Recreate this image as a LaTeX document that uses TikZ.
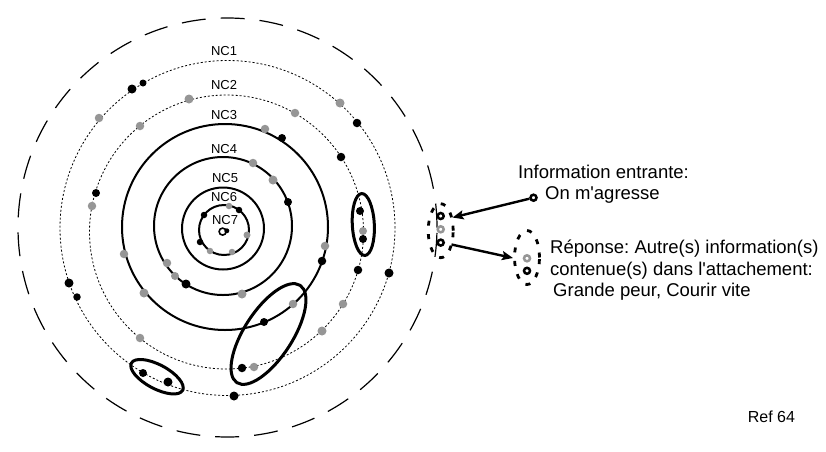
\documentclass[tikz,border=0pt]{standalone}
\usepackage{fontspec}
\setmainfont{Liberation Sans}
\usetikzlibrary{arrows.meta}
\definecolor{dotgray}{RGB}{150,150,150}
\frenchspacing
\begin{document}
\begin{tikzpicture}[x=1pt,y=-1pt,
  bdot/.style={circle,fill=black,inner sep=0pt,minimum size=7pt},
  gdot/.style={circle,fill=dotgray,inner sep=0pt,minimum size=7.5pt},
  outerc/.style={line width=1.2pt,dash pattern=on 24pt off 15pt},
  dotc/.style={line width=0.8pt,dash pattern=on 2pt off 2pt},
  solidc/.style={line width=2pt},
  grp/.style={line width=3pt},
  nclab/.style={anchor=base,inner sep=0pt,font=\fontsize{13pt}{15pt}\selectfont},
  txt/.style={anchor=base west,inner sep=0pt,font=\fontsize{18.5pt}{21pt}\selectfont},
  ringb/.style={circle,draw=black,line width=2.5pt,inner sep=0pt,minimum size=6pt},
  ringg/.style={circle,draw=dotgray,line width=2.5pt,inner sep=0pt,minimum size=6pt},
  dashgrp/.style={line width=2.8pt,dash pattern=on 5pt off 8.5pt},
  arr/.style={line width=2.4pt,-{Stealth[length=11pt,width=9pt,inset=2pt]}}
]
\fill[white] (0,0) rectangle (826,451);
\useasboundingbox (0,0) rectangle (826,451);

% circles
\draw[outerc] (227.5,227.5) circle[radius=209.5pt];
\draw[dotc] (227.5,228) circle[radius=167.5pt];
\draw[dotc] (226.5,232) circle[radius=137pt];
\draw[solidc] (225,227) circle[radius=103pt];
\draw[solidc] (223,226) circle[radius=69pt];
\draw[solidc] (223,228.5) circle[radius=41pt];
\draw[solidc] (224,230) circle[radius=25pt];

% labels
\node[nclab] (nc1) at (224,55.7) {NC1};
\node[nclab] (nc2) at (224,89.7) {NC2};
\node[nclab] (nc3) at (224,119.7) {NC3};
\node[nclab] (nc4) at (224,153.7) {NC4};
\node[nclab] (nc5) at (225,182.7) {NC5};
\node[nclab] (nc6) at (224,201.7) {NC6};
\node[nclab] (nc7) at (225,224.7) {NC7};

% NC7 centre
\node[bdot,minimum size=5pt] (c7dot) at (226.8,230.8) {};
\node[circle,draw=black,line width=1.6pt,inner sep=0pt,minimum size=7pt] (c7ring) at (222.6,231.6) {};

% black dots
\foreach \x/\y/\s [count=\i] in {
  143/83/7, 132/89/9, 357/123/8.5, 389/273/9, 234/396/9, 69/283/9, 77/297/7.5,
  168/382/9, 143/373/8,
  341/157/8.5, 360/211/8, 363/239/8, 358/270/8.5, 242/368/8.5, 96/193/8,
  282/138/8, 322/261/8.5, 264/322/8,
  288/202/8, 186/284/9,
  239/210/6.5, 204/215/6.5, 200/242/6.5}
  \node[bdot,minimum size=\s pt] (b\i) at (\x,\y) {};

% gray dots
\foreach \x/\y/\s [count=\i] in {
  340/103/9, 99/118/8.5,
  189/99/9, 295/113/8.5, 140/126/8.5, 363/231/8, 343/304/8.5, 322/331/9, 254/367/8.5, 140/338/8.5, 92/206/8.5,
  265/129/8.5, 325/246/8.5, 293/304/8.5, 124/254/8.5, 144/293/9,
  253/163/8.5, 273/180/9, 242/294/9, 175/276/8, 167/263/8.5,
  229/206/6.5, 247/235/7, 210/251/6.5, 232/252/6.5}
  \node[gdot,minimum size=\s pt] (g\i) at (\x,\y) {};

% grouping ellipses
\draw[grp,rotate around={3:(363.3,224.5)}] (363.3,224.5) ellipse[x radius=11pt,y radius=31pt];
\draw[grp,rotate around={57:(268.5,334)}] (268.5,334) ellipse[x radius=58pt,y radius=24pt];
\draw[grp,rotate around={-28:(157,376.7)}] (157,376.7) ellipse[x radius=29pt,y radius=12pt];

% right side: incoming group
\draw[dashgrp] (440.7,230.7) ellipse[x radius=12.5pt,y radius=27pt];
\node[ringb] (r1) at (440.7,216) {};
\node[ringg] (r2) at (440.7,229.3) {};
\node[ringb] (r3) at (440.7,242.6) {};

% response group
\draw[dashgrp] (527,257.5) ellipse[x radius=12.5pt,y radius=27pt];
\node[ringg] (r4) at (527,258.3) {};
\node[ringb] (r5) at (527,270.8) {};

% source
\node[ringb] (src) at (533.5,197.7) {};
\coordinate (in1) at (452.5,217.5);
\coordinate (out2s) at (451.5,244.5);
\coordinate (in2) at (513,258);
\draw[arr] (src) -- (in1);
\draw[arr] (out2s) -- (in2);

% texts
\node[txt] (t1) at (518,178.3) {Information entrante:};
\node[txt] (t2) at (545,199.5) {On m\textquotesingle agresse};
\node[txt] (t3) at (550,253.3) {Réponse: Autre(s) information(s)};
\node[txt] (t4) at (550,275) {contenue(s) dans l\textquotesingle attachement:};
\node[txt] (t5) at (553,296.3) {Grande peur, Courir vite};
\node[anchor=base west,inner sep=0pt,font=\fontsize{16pt}{18pt}\selectfont] (ref) at (747.7,422.3) {Ref 64};
\end{tikzpicture}
\end{document}
